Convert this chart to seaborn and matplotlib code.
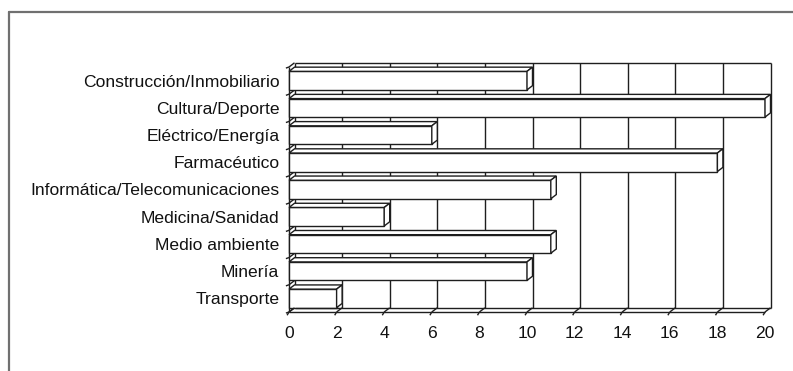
import matplotlib
matplotlib.use("Agg")
import matplotlib.pyplot as plt
from matplotlib.patches import Polygon
from matplotlib.lines import Line2D
import seaborn as sns

# Sectores y número de casos por sector
sectores = [
    "Construcción/Inmobiliario",
    "Cultura/Deporte",
    "Eléctrico/Energía",
    "Farmacéutico",
    "Informática/Telecomunicaciones",
    "Medicina/Sanidad",
    "Medio ambiente",
    "Minería",
    "Transporte",
]
valores = [10, 20, 6, 18, 11, 4, 11, 10, 2]
ticks_x = [0, 2, 4, 6, 8, 10, 12, 14, 16, 18, 20]

sns.set_theme(style="white")
plt.rcParams["font.family"] = ["Liberation Sans", "DejaVu Sans"]

W, H = 793, 371
fig = plt.figure(figsize=(W / 100, H / 100), dpi=100)
fig.patch.set_facecolor("white")

# front plane of the plot area, in pixels
x0_px, x1_px = 289, 765
top_px, bot_px = 67, 312
ax = fig.add_axes([x0_px / W, 1 - bot_px / H, (x1_px - x0_px) / W, (bot_px - top_px) / H])

ink = "#1e1e1e"
lw = 1.0
n = len(sectores)
xmax = ticks_x[-1]
ymin, ymax = -0.5, n - 0.5

# depth offset of the 3-D look, in data units
dx = 5.5 / ((x1_px - x0_px) / xmax)
dy = 4.2 / ((bot_px - top_px) / n)
bar_h = 0.68

sns.barplot(x=valores, y=sectores, orient="h", color="white", saturation=1,
            edgecolor=ink, linewidth=lw, width=bar_h, ax=ax, zorder=4)
for p in ax.patches:
    p.set_clip_on(False)

ax.set_xlim(0, xmax)
ax.set_ylim(ymax, ymin)
for s in ax.spines.values():
    s.set_visible(False)
ax.set_xlabel("")
ax.set_ylabel("")
ax.set_facecolor("none")


def seg(xs, ys, z=2):
    ax.add_line(Line2D(xs, ys, color=ink, lw=lw, clip_on=False, zorder=z,
                       solid_capstyle="butt"))


# back wall: top edge and vertical gridlines
seg([dx, xmax + dx], [ymin - dy, ymin - dy])
for v in ticks_x:
    seg([v + dx, v + dx], [ymin - dy, ymax - dy])

# left wall
seg([0, 0], [ymin, ymax])
for k in range(n + 1):
    yb = k - 0.5
    seg([0, dx], [yb, yb - dy])
    seg([-0.13, 0], [yb + 0.04, yb])

# floor
seg([0, xmax], [ymax, ymax], z=5)
seg([dx, xmax + dx], [ymax - dy, ymax - dy], z=5)
for v in ticks_x:
    seg([v, v + dx], [ymax, ymax - dy], z=5)
    seg([v - 0.08, v], [ymax + 0.12, ymax], z=5)

# top and end faces of each bar
for i, v in enumerate(valores):
    yt = i - bar_h / 2
    yb = i + bar_h / 2
    top = Polygon([(0, yt), (v, yt), (v + dx, yt - dy), (dx, yt - dy)],
                  closed=True, facecolor="white", edgecolor=ink, lw=lw,
                  clip_on=False, zorder=4, joinstyle="miter")
    end = Polygon([(v, yt), (v + dx, yt - dy), (v + dx, yb - dy), (v, yb)],
                  closed=True, facecolor="white", edgecolor=ink, lw=lw,
                  clip_on=False, zorder=4, joinstyle="miter")
    ax.add_patch(top)
    ax.add_patch(end)

ax.set_xticks(ticks_x)
ax.set_xticklabels([str(t) for t in ticks_x])
ax.tick_params(axis="x", length=0, pad=10, labelsize=12.6, labelcolor="#111111")
ax.tick_params(axis="y", length=0, pad=7, labelsize=12.6, labelcolor="#111111")

# outer frame of the chart area
fx, fy = 8.5 / W, 1 - 11.5 / H
fig.add_artist(Line2D([fx, 1.0], [fy, fy], transform=fig.transFigure,
                      color="#707070", lw=1.6))
fig.add_artist(Line2D([fx, fx], [0, fy], transform=fig.transFigure,
                      color="#707070", lw=1.6))

fig.savefig("out.png", dpi=100)
